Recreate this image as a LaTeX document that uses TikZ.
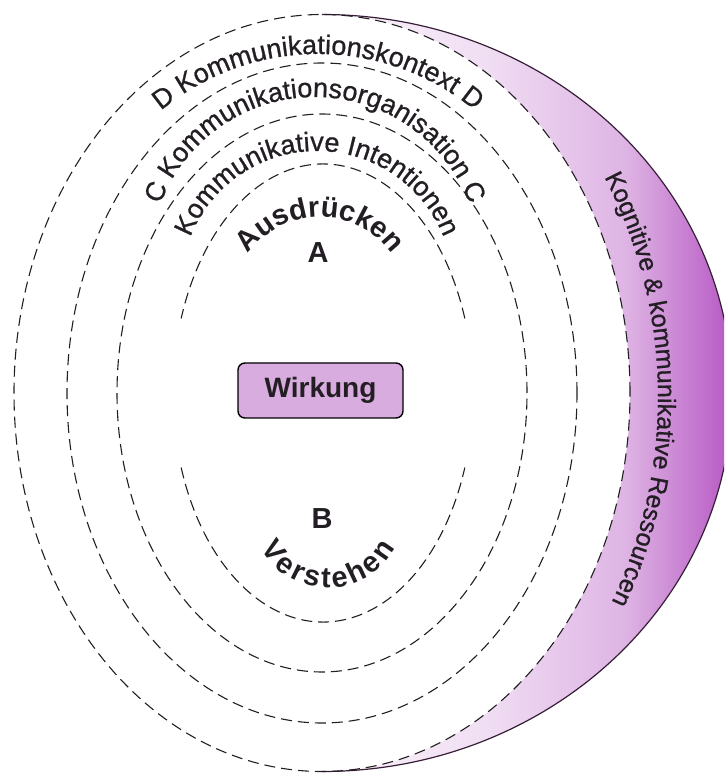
\documentclass[tikz,border=0pt]{standalone}
\usepackage{fontspec}
\setmainfont{Liberation Sans}
\newfontfamily\ringfamily[FakeBold=0.8]{Liberation Sans}
\usepackage{tikz}
\usetikzlibrary{decorations.text}
\definecolor{boxfill}{RGB}{217,172,223}
\definecolor{rimline}{RGB}{55,30,55}
\definecolor{inkcolor}{RGB}{35,30,35}
\definecolor{cresA}{RGB}{251,244,251}
\definecolor{cresB}{RGB}{240,222,243}
\definecolor{cresC}{RGB}{222,180,228}
\definecolor{cresD}{RGB}{182,88,196}
\pgfdeclarehorizontalshading{crescentshade}{100bp}{color(0bp)=(cresA); color(25bp)=(cresA); color(45bp)=(cresB); color(62bp)=(cresC); color(75bp)=(cresD); color(100bp)=(cresD)}
\newcommand{\ringfont}{\ringfamily\fontsize{27}{32}\selectfont}
\newcommand{\corefont}{\fontsize{29}{34}\selectfont\bfseries}
\newcommand{\resfont}{\ringfamily\fontsize{25}{30}\selectfont}
\newcommand{\gap}{\kern3pt}

\begin{document}
\begin{tikzpicture}[x=1pt,y=1pt,
   ring/.style={draw=inkcolor,line width=1.1pt,dash pattern=on 11pt off 6pt},
   ringtext/.style={decorate,decoration={text along path,text color=inkcolor,text align=center,text={#1}}}]
\useasboundingbox (-322,-380) rectangle (402,393);
\clip (-322,-380) rectangle (402,393);
%% resources crescent
\shade[shading=crescentshade] (0,378.5) arc[start angle=90,end angle=-90,x radius=410,y radius=378.5]
   arc[start angle=-90,end angle=90,x radius=308,y radius=378.5] -- cycle;
\draw[rimline,line width=1.2pt] (0,378.5) arc[start angle=90,end angle=-90,x radius=410,y radius=378.5];

%% dashed rings
\foreach \a/\b in {308/378.5, 255/330, 205/279}
   \draw[ring] (0,0) ellipse [x radius=\a, y radius=\b];
\draw[ring] (1,0) ++(19:150 and 229) arc[start angle=19,end angle=161,x radius=150,y radius=229];
\draw[ring] (1,0) ++(199:150 and 229) arc[start angle=199,end angle=341,x radius=150,y radius=229];

%% curved labels
\path[ringtext={|\ringfont|D Kommunikationskontext D}] (-4,93) ++(170:246) arc[start angle=170,end angle=10,radius=246];
\path[ringtext={|\ringfont|C Kommunikationsorganisation C}] (-7,131) ++(178:165) arc[start angle=178,end angle=2,radius=165];
\path[ringtext={|\ringfont|Kommunikative Intentionen}] (-5,106) ++(178:136) arc[start angle=178,end angle=2,radius=136];
\path[ringtext={|\corefont|Ausdrücken}] (-2,88) ++(178:88) arc[start angle=178,end angle=2,radius=88];
\path[ringtext={|\corefont|V{\gap}e{\gap}r{\gap}s{\gap}t{\gap}e{\gap}h{\gap}e{\gap}n}] (6,-119) ++(180:76) arc[start angle=180,end angle=360,radius=76];
\path[ringtext={|\resfont|Kognitive {\&} kommunikative Ressourcen}] (-141,-4) ++(40:477) arc[start angle=40,end angle=-38,radius=477];

\node[draw=black,line width=1.4pt,fill=boxfill,rounded corners=7pt,minimum width=165pt,minimum height=55pt,
   inner sep=0pt,text=inkcolor,font=\fontsize{28}{32}\selectfont\bfseries] (wirkung) at (-1.5,2.5) {Wirkung};
\node[font=\corefont,text=inkcolor] (pointA) at (-4,140) {A};
\node[font=\corefont,text=inkcolor] (pointB) at (0,-126) {B};
\end{tikzpicture}
\end{document}
